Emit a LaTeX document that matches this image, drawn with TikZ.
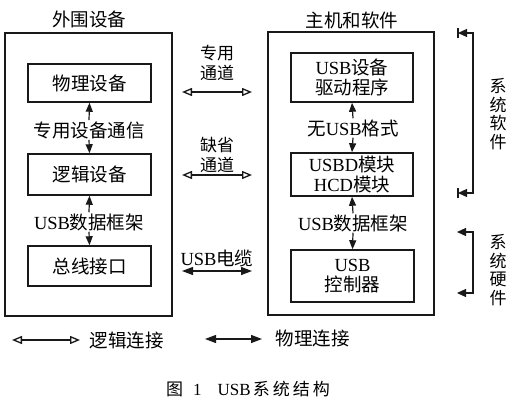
\documentclass[tikz,border=0pt]{standalone}
\usepackage{fontspec}
\setmainfont{Liberation Serif}
\newfontfamily\cjk{Noto Sans CJK SC}
\usetikzlibrary{arrows.meta}
\begin{document}
\begin{tikzpicture}[x=1pt,y=-1pt,
  every node/.style={font=\fontsize{18.5}{20}\selectfont, text=black},
  box/.style={draw=black!90, line width=1.5pt, minimum width=123pt, inner sep=0pt, align=center},
  outerbox/.style={draw=black!90, line width=1.5pt, inner sep=0pt},
  lbl/.style={inner sep=1pt},
  conn/.style={line width=1.2pt, draw=black!90},
  hollowarr/.style={{Triangle[open,length=10pt,width=8pt,line width=1.3pt]}-{Triangle[open,length=10pt,width=8pt,line width=1.3pt]}},
  fullarr/.style={{Triangle[length=11pt,width=8pt]}-{Triangle[length=11pt,width=8pt]}},
  upto/.style={-{Triangle[length=9pt,width=7pt]}},
  brk/.style={{Triangle[length=9pt,width=8pt]}-{Triangle[length=9pt,width=8pt]}},
  vtext/.style={align=center, font=\fontsize{17}{18.7}\selectfont\cjk},
  midtext/.style={align=center, font=\fontsize{17}{20}\selectfont\cjk}
]
\useasboundingbox (0,0) rectangle (514,401);

% outer boxes
\node[outerbox, minimum width=167pt, minimum height=283pt] (periph) at (88.5,174.5) {};
\node[outerbox, minimum width=166pt, minimum height=283pt] (host) at (351,173.5) {};
\node (tperiph) at (89,19) {\cjk 外围设备};
\node (thost) at (352,20) {\cjk 主机和软件};

% left column
\node[box, minimum height=38pt] (phys) at (89.5,83) {\cjk 物理设备};
\node[box, minimum height=41pt] (logic) at (89.5,174.5) {\cjk 逻辑设备};
\node[box, minimum height=40pt] (bus) at (89.5,266) {\cjk 总线接口};
\node[lbl] (l1) at (89,130) {\cjk 专用设备通信};
\node[lbl] (l2) at (89,222) {USB{\cjk 数据框架}};
\draw[conn, upto] (l1.north) -- (phys.south);
\draw[conn, upto] (l1.south) -- (logic.north);
\draw[conn, upto] (l2.north) -- (logic.south);
\draw[conn, upto] (l2.south) -- (bus.north);

% right column
\node[box, minimum width=122pt, minimum height=49pt] (drv) at (352,77.5) {USB{\cjk 设备}\\{\cjk 驱动程序}};
\node[box, minimum width=122pt, minimum height=43pt] (usbd) at (352,174.5) {USBD{\cjk 模块}\\HCD{\cjk 模块}};
\node[box, minimum width=123pt, minimum height=52pt] (ctrl) at (352.5,276) {USB\\{\cjk 控制器}};
\node[lbl] (r1) at (353,128) {{\cjk 无}USB{\cjk 格式}};
\node[lbl] (r2) at (353,223) {USB{\cjk 数据框架}};
\draw[conn, upto] (r1.north) -- (drv.south);
\draw[conn, upto] (r1.south) -- (usbd.north);
\draw[conn, upto] (r2.north) -- (usbd.south);
\draw[conn, upto] (r2.south) -- (ctrl.north);

% middle channels
\node[midtext] (m1) at (217,63) {专用\\通道};
\node[midtext] (m2) at (217,155) {缺省\\通道};
\node (m3) at (217,258) {USB{\cjk 电缆}};
\coordinate (a1l) at (182,92);  \coordinate (a1r) at (252,92);
\coordinate (a2l) at (182,175); \coordinate (a2r) at (252,175);
\coordinate (a3l) at (182,271); \coordinate (a3r) at (252,271);
\draw[conn, hollowarr] (a1l) -- (a1r);
\draw[conn, hollowarr] (a2l) -- (a2r);
\draw[conn, fullarr] (a3l) -- (a3r);

% brackets on the right
\coordinate (swtl) at (458,33);  \coordinate (swt) at (473,33);
\coordinate (swbl) at (458,193); \coordinate (swb) at (473,193);
\draw[conn, brk] (swtl) -- (swt) -- (swb) -- (swbl);
\draw[conn, line width=1.5pt] ([yshift=5pt]swtl) -- ([yshift=-5pt]swtl);
\draw[conn, line width=1.5pt] ([yshift=5pt]swbl) -- ([yshift=-5pt]swbl);
\node[vtext] (sw) at (498,114) {系\\统\\软\\件};

\coordinate (hwtl) at (457,232); \coordinate (hwt) at (473,232);
\coordinate (hwbl) at (457,293); \coordinate (hwb) at (473,293);
\draw[conn, brk] (hwtl) -- (hwt) -- (hwb) -- (hwbl);
\node[vtext] (hw) at (498,270) {系\\统\\硬\\件};

% legend
\coordinate (lgl) at (12,340); \coordinate (lgr) at (80,340);
\draw[conn, hollowarr] (lgl) -- (lgr);
\node[anchor=west] (lgt) at (86,340) {\cjk 逻辑连接};
\coordinate (pgl) at (205,339); \coordinate (pgr) at (262,339);
\draw[conn, fullarr] (pgl) -- (pgr);
\node[anchor=west] (pgt) at (272,338) {\cjk 物理连接};

% caption
\node[anchor=west, font=\fontsize{17}{20}\selectfont, inner sep=0pt] (cap) at (166,389) {{\cjk 图}\hspace{10pt}1\hspace{16pt}USB\hspace{2pt}{\cjk 系\hspace{3pt}统\hspace{3pt}结\hspace{3pt}构}};
\end{tikzpicture}
\end{document}
